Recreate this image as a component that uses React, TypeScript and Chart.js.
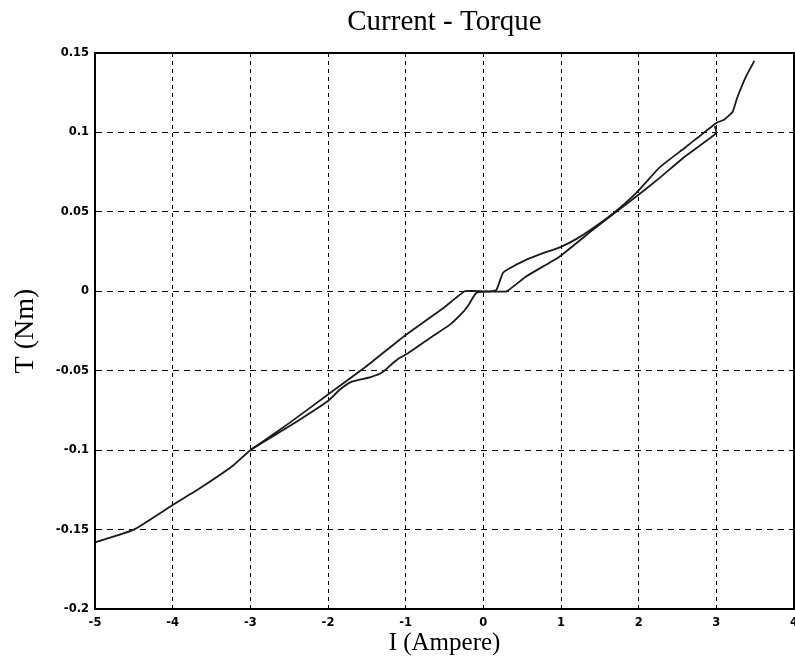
import React, { useEffect, useRef } from "react";
import { Chart, registerables } from "chart.js";

Chart.register(...registerables);

// Branch with the wavy shape (lower for negative current, upper for positive current)
const wavyX = [-5, -4.5, -4, -3.65, -3.23, -3, -2.5, -2, -1.85, -1.7, -1.45, -1.3, -1.16, -1.08, -0.97, -0.69, -0.43, -0.26, -0.18, -0.09, 0.1, 0.17, 0.25, 0.34, 0.55, 0.77, 1.0, 1.2, 1.41, 1.67, 1.97, 2.27, 2.6, 3.0, 3.1, 3.21, 3.27, 3.38, 3.49];
const wavyY = [-0.158, -0.15, -0.1345, -0.124, -0.11, -0.1, -0.085, -0.069, -0.062, -0.057, -0.054, -0.051, -0.045, -0.042, -0.039, -0.0295, -0.021, -0.013, -0.0078, -0.001, 0, 0.001, 0.0114, 0.0145, 0.0198, 0.024, 0.028, 0.033, 0.0397, 0.049, 0.062, 0.078, 0.0905, 0.106, 0.108, 0.113, 0.122, 0.135, 0.145];

// Nearly straight branch
const straightX = [-3, -2.5, -2, -1.5, -1, -0.5, -0.24, 0.0, 0.3, 0.55, 0.98, 1.41, 1.97, 2.27, 2.6, 3.0, 2.98];
const straightY = [-0.1, -0.083, -0.065, -0.047, -0.0275, -0.01, 0, 0, 0, 0.0093, 0.0218, 0.0387, 0.0597, 0.0714, 0.085, 0.0996, 0.104];

const xTicks = [-5, -4, -3, -2, -1, 0, 1, 2, 3, 4];
const xTickLabels = ["-5", "-4", "-3", "-2", "-1", "0", "1", "2", "3", "4"];
const yTicks = [-0.2, -0.15, -0.1, -0.05, 0, 0.05, 0.1, 0.15];
const yTickLabels = ["-0.2", "-0.15", "-0.1", "-0.05", "0", "0.05", "0.1", "0.15"];

const chartTitle = "Current - Torque";
const xTitle = "I (Ampere)";
const yTitle = "T (Nm)";

const boxPlugin = {
  id: "boxFrame",
  afterDraw(chart: any) {
    const { ctx, chartArea } = chart;
    const { left, top, right, bottom } = chartArea;
    ctx.save();
    ctx.strokeStyle = "#000";
    ctx.lineWidth = 2;
    ctx.setLineDash([]);
    ctx.strokeRect(left, top, right - left, bottom - top);
    ctx.restore();
  },
};

export default function App() {
  const ref = useRef<HTMLCanvasElement | null>(null);

  useEffect(() => {
    if (!ref.current) return;
    const toPts = (xs: number[], ys: number[]) => xs.map((x, i) => ({ x, y: ys[i] }));
    const lineColor = "#1a1a1a";
    const chart = new Chart(ref.current, {
      type: "scatter",
      data: {
        datasets: [
          {
            data: toPts(wavyX, wavyY),
            showLine: true,
            borderColor: lineColor,
            borderWidth: 1.8,
            pointRadius: 0,
            tension: 0.15,
          },
          {
            data: toPts(straightX, straightY),
            showLine: true,
            borderColor: lineColor,
            borderWidth: 1.8,
            pointRadius: 0,
            tension: 0.1,
          },
        ],
      },
      options: {
        animation: false,
        responsive: false,
        devicePixelRatio: 1,
        layout: { padding: { left: 0, right: 1, top: 0, bottom: 0 } },
        plugins: {
          legend: { display: false },
          tooltip: { enabled: false },
          title: {
            display: true,
            text: chartTitle,
            fullSize: false,
            color: "#000",
            font: { family: "'Liberation Serif', serif", size: 29, weight: "normal", lineHeight: 1.2 },
            padding: { top: 5, bottom: 13.2 },
          },
        },
        scales: {
          x: {
            type: "linear",
            min: -5,
            max: 4,
            afterBuildTicks: (scale: any) => {
              scale.ticks = xTicks.map((v) => ({ value: v }));
            },
            afterFit: (scale: any) => {
              scale.height = 51;
              scale.paddingLeft = 0;
              scale.paddingRight = 0;
            },
            ticks: {
              color: "#000",
              padding: 7,
              maxRotation: 0,
              font: { family: "'DejaVu Sans', sans-serif", size: 11.5, weight: "bold" },
              callback: (v: any) => xTickLabels[xTicks.indexOf(Number(v))] ?? "",
            },
            grid: { color: "#000", lineWidth: 1, drawTicks: false },
            border: { display: true, color: "#000", width: 2, dash: [4, 4] },
            title: {
              display: true,
              text: xTitle,
              color: "#000",
              font: { family: "'Liberation Serif', serif", size: 25, weight: "normal", lineHeight: 1.2 },
              padding: { top: 0, bottom: 2 },
            },
          },
          y: {
            type: "linear",
            min: -0.2,
            max: 0.15,
            afterBuildTicks: (scale: any) => {
              scale.ticks = yTicks.map((v) => ({ value: v }));
            },
            afterFit: (scale: any) => {
              scale.width = 95;
              scale.paddingTop = 0;
              scale.paddingBottom = 0;
            },
            ticks: {
              color: "#000",
              padding: 6,
              font: { family: "'DejaVu Sans', sans-serif", size: 11.5, weight: "bold" },
              callback: (v: any) => {
                const n = Number(v);
                let best = 0;
                for (let i = 0; i < yTicks.length; i++) {
                  if (Math.abs(yTicks[i] - n) < Math.abs(yTicks[best] - n)) best = i;
                }
                return yTickLabels[best];
              },
            },
            grid: { color: "#000", lineWidth: 1, drawTicks: false },
            border: { display: true, color: "#000", width: 2, dash: [6, 5] },
            title: {
              display: true,
              text: yTitle,
              color: "#000",
              font: { family: "'Liberation Serif', serif", size: 28, weight: "normal", lineHeight: 1.2 },
              padding: { top: 9, bottom: 0 },
            },
          },
        },
      },
      plugins: [boxPlugin],
    } as any);
    return () => chart.destroy();
  }, []);

  return (
    <div style={{ position: "absolute", left: 0, top: 0, width: 795, height: 660, background: "#fff" }}>
      <canvas ref={ref} width={795} height={660} style={{ width: 795, height: 660, display: "block" }} />
    </div>
  );
}
